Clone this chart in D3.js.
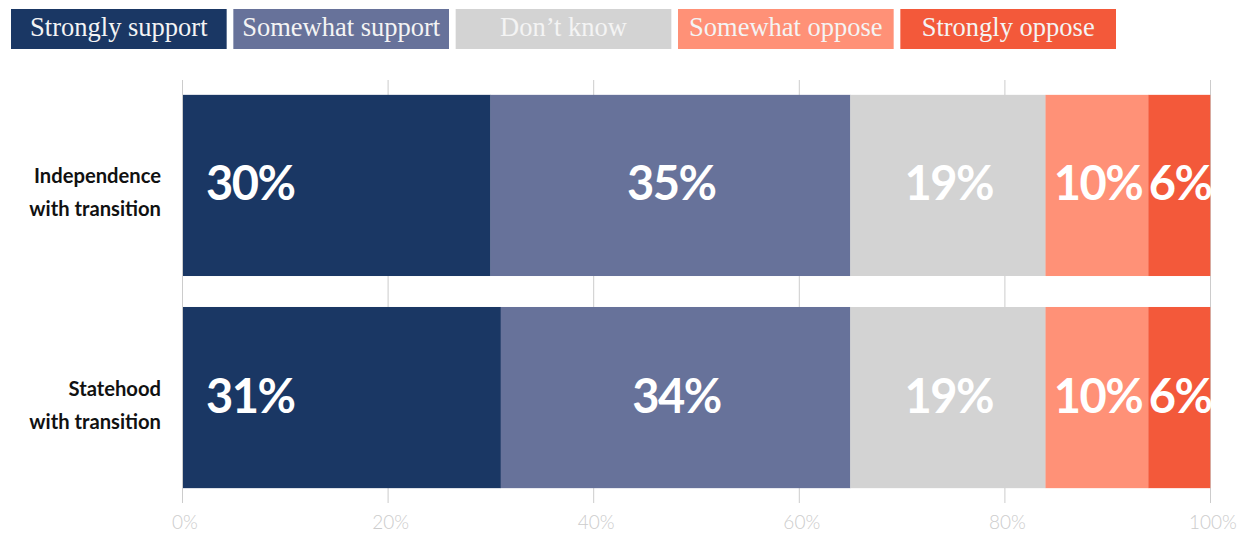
<!DOCTYPE html>
<html>
<head>
<meta charset="utf-8">
<script src="https://cdn.jsdelivr.net/npm/d3@7"></script>
<style>
  body { margin: 0; background: #fff; }
  svg { display: block; }
</style>
</head>
<body>
<script>
// chart data
const categories = ['Independence with transition', 'Statehood with transition'];
const categoryLines = [['Independence', 'with transition'], ['Statehood', 'with transition']];
const seriesNames = ['Strongly support', 'Somewhat support', 'Don\u2019t know', 'Somewhat oppose', 'Strongly oppose'];
const independenceValues = [30, 35, 19, 10, 6];
const statehoodValues = [31, 34, 19, 10, 6];
const tickValues = [0, 20, 40, 60, 80, 100];

const width = 1244;
const height = 533;
const colors = ['#1a3764', '#67729a', '#d3d3d3', '#ff9177', '#f3593a'];

const svg = d3.select('body')
    .append('svg')
    .attr('width', width)
    .attr('height', height);

// legend
const legendX = d3.scaleBand().domain(seriesNames).range([11, 1116]).paddingInner(0.03);
const legend = svg.append('g').attr('class', 'legend')
    .selectAll('g')
    .data(seriesNames)
    .enter()
    .append('g')
    .attr('transform', (d) => `translate(${legendX(d)}, 9)`);

legend.append('rect')
    .attr('width', legendX.bandwidth())
    .attr('height', 40)
    .attr('fill', (d, i) => colors[i]);

legend.append('text')
    .attr('x', legendX.bandwidth() / 2)
    .attr('y', 27)
    .attr('text-anchor', 'middle')
    .attr('font-family', '"Liberation Serif", serif')
    .attr('font-size', 26.5)
    .attr('fill', '#f4f4f4')
    .text((d) => d);

// scales
const x = d3.scaleLinear().domain([0, 100]).range([182, 1210]);
const y = d3.scaleBand().domain(categories).range([80, 503]).paddingInner(0.146).paddingOuter(0.07);

// gridlines
svg.append('g').attr('class', 'grid')
    .selectAll('line')
    .data(tickValues)
    .enter()
    .append('line')
    .attr('x1', (d) => x(d) + 0.5)
    .attr('x2', (d) => x(d) + 0.5)
    .attr('y1', 80)
    .attr('y2', 503)
    .attr('stroke', '#cccccc')
    .attr('stroke-width', 1);

// axis labels
svg.append('g').attr('class', 'axis')
    .selectAll('text')
    .data(tickValues)
    .enter()
    .append('text')
    .attr('x', (d) => x(d) + 3)
    .attr('y', 529)
    .attr('text-anchor', 'middle')
    .attr('font-family', 'Lato, sans-serif')
    .attr('font-weight', 300)
    .attr('font-size', 19)
    .attr('fill', '#cccccc')
    .text((d) => d + '%');

// stacked bars
const rows = [independenceValues, statehoodValues].map((values, r) => {
    let acc = 0;
    return values.map((v, i) => {
        const seg = { cat: categories[r], i, v, x0: acc, x1: acc + v };
        acc += v;
        return seg;
    });
});

const barGroup = svg.append('g').attr('class', 'bars')
    .selectAll('g')
    .data(rows)
    .enter()
    .append('g');

barGroup.selectAll('rect')
    .data((row) => row)
    .enter()
    .append('rect')
    .attr('x', (d) => d.i === 0 ? x(d.x0) + 1 : x(d.x0))
    .attr('y', (d) => y(d.cat))
    .attr('width', (d) => x(d.x1) - x(d.x0) - (d.i === 0 ? 1 : 0) + 0.3)
    .attr('height', y.bandwidth())
    .attr('fill', (d) => colors[d.i]);

barGroup.selectAll('text')
    .data((row) => row)
    .enter()
    .append('text')
    .attr('x', (d) => d.i === 0 ? x(d.x0) + 24 : (x(d.x0) + x(d.x1)) / 2 + 1)
    .attr('y', (d) => y(d.cat) + y.bandwidth() / 2 + 15)
    .attr('text-anchor', (d) => d.i === 0 ? 'start' : 'middle')
    .attr('font-family', 'Lato, sans-serif')
    .attr('font-weight', 700)
    .attr('font-size', 47)
    .attr('letter-spacing', -1.5)
    .attr('fill', '#ffffff')
    .text((d) => d.v + '%');

// category labels
const catLabels = svg.append('g').attr('class', 'categories')
    .selectAll('text')
    .data(categories)
    .enter()
    .append('text')
    .attr('x', 161)
    .attr('y', (d) => y(d) + y.bandwidth() / 2 - 2)
    .attr('text-anchor', 'end')
    .attr('font-family', 'Lato, sans-serif')
    .attr('font-weight', 700)
    .attr('font-size', 20.2)
    .attr('fill', '#111111');

catLabels.selectAll('tspan')
    .data((d, i) => categoryLines[i])
    .enter()
    .append('tspan')
    .attr('x', 161)
    .attr('dy', (d, j) => j === 0 ? 0 : 33)
    .text((d) => d);
</script>
</body>
</html>
